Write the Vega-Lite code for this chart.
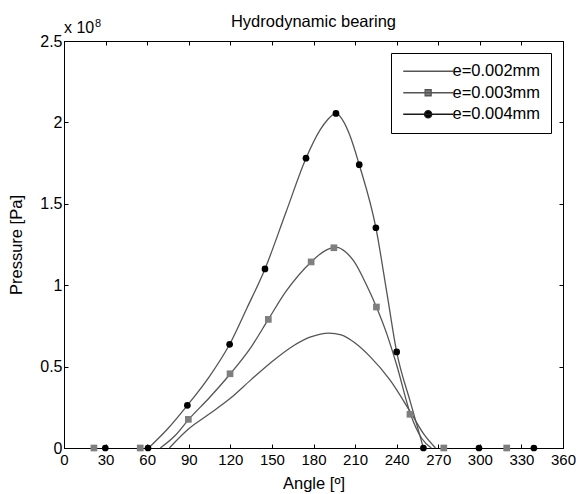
{
  "$schema": "https://vega.github.io/schema/vega-lite/v6.json",
  "width": 499,
  "height": 407,
  "autosize": "none",
  "padding": {"left": 64, "top": 41, "right": 13, "bottom": 46},
  "background": "white",
  "title": {"text": "Hydrodynamic bearing", "fontSize": 16.5, "fontWeight": "normal", "font": "Liberation Sans", "color": "black", "offset": 4, "dy": 16},
  "config": {
    "font": "Liberation Sans",
    "view": {"stroke": "black", "strokeWidth": 1},
    "axis": {"grid": false, "domainColor": "black", "tickColor": "black", "tickSize": -4, "labelColor": "black", "labelFontSize": 15, "labelFont": "Liberation Sans", "titleFontSize": 16.5, "titleFont": "Liberation Sans", "titleFontWeight": "normal", "titleColor": "black", "labelPadding": 4, "labelFlush": false}
  },
  "datasets": {
    "curves": [
      {"series": "e=0.002mm", "angle": 76, "p": 0},
      {"series": "e=0.002mm", "angle": 90, "p": 0.118},
      {"series": "e=0.002mm", "angle": 105, "p": 0.21},
      {"series": "e=0.002mm", "angle": 120, "p": 0.305},
      {"series": "e=0.002mm", "angle": 135, "p": 0.42},
      {"series": "e=0.002mm", "angle": 150, "p": 0.53},
      {"series": "e=0.002mm", "angle": 165, "p": 0.625},
      {"series": "e=0.002mm", "angle": 178, "p": 0.682},
      {"series": "e=0.002mm", "angle": 191, "p": 0.706},
      {"series": "e=0.002mm", "angle": 200, "p": 0.695},
      {"series": "e=0.002mm", "angle": 210, "p": 0.645},
      {"series": "e=0.002mm", "angle": 221, "p": 0.56},
      {"series": "e=0.002mm", "angle": 235, "p": 0.42},
      {"series": "e=0.002mm", "angle": 250, "p": 0.22},
      {"series": "e=0.002mm", "angle": 260, "p": 0.08},
      {"series": "e=0.002mm", "angle": 268, "p": 0},
      {"series": "e=0.003mm", "angle": 69.5, "p": 0},
      {"series": "e=0.003mm", "angle": 80, "p": 0.075},
      {"series": "e=0.003mm", "angle": 90, "p": 0.176},
      {"series": "e=0.003mm", "angle": 105, "p": 0.31},
      {"series": "e=0.003mm", "angle": 120, "p": 0.456},
      {"series": "e=0.003mm", "angle": 135, "p": 0.62},
      {"series": "e=0.003mm", "angle": 147.4, "p": 0.79},
      {"series": "e=0.003mm", "angle": 160, "p": 0.96},
      {"series": "e=0.003mm", "angle": 178.3, "p": 1.143},
      {"series": "e=0.003mm", "angle": 187, "p": 1.205},
      {"series": "e=0.003mm", "angle": 192, "p": 1.226},
      {"series": "e=0.003mm", "angle": 197, "p": 1.232},
      {"series": "e=0.003mm", "angle": 203, "p": 1.205},
      {"series": "e=0.003mm", "angle": 209, "p": 1.149},
      {"series": "e=0.003mm", "angle": 218, "p": 1.006},
      {"series": "e=0.003mm", "angle": 225.4, "p": 0.866},
      {"series": "e=0.003mm", "angle": 233, "p": 0.698},
      {"series": "e=0.003mm", "angle": 240, "p": 0.51},
      {"series": "e=0.003mm", "angle": 250, "p": 0.207},
      {"series": "e=0.003mm", "angle": 258, "p": 0.06},
      {"series": "e=0.003mm", "angle": 265, "p": 0},
      {"series": "e=0.004mm", "angle": 61, "p": 0},
      {"series": "e=0.004mm", "angle": 75, "p": 0.12},
      {"series": "e=0.004mm", "angle": 89, "p": 0.262},
      {"series": "e=0.004mm", "angle": 105, "p": 0.44},
      {"series": "e=0.004mm", "angle": 119.5, "p": 0.637},
      {"series": "e=0.004mm", "angle": 132, "p": 0.86},
      {"series": "e=0.004mm", "angle": 145, "p": 1.1},
      {"series": "e=0.004mm", "angle": 160, "p": 1.445},
      {"series": "e=0.004mm", "angle": 174.6, "p": 1.78},
      {"series": "e=0.004mm", "angle": 185, "p": 1.957},
      {"series": "e=0.004mm", "angle": 190, "p": 2.015},
      {"series": "e=0.004mm", "angle": 196.2, "p": 2.055},
      {"series": "e=0.004mm", "angle": 202, "p": 2.0},
      {"series": "e=0.004mm", "angle": 206, "p": 1.925},
      {"series": "e=0.004mm", "angle": 213, "p": 1.74},
      {"series": "e=0.004mm", "angle": 225, "p": 1.353},
      {"series": "e=0.004mm", "angle": 233, "p": 0.95},
      {"series": "e=0.004mm", "angle": 240, "p": 0.59},
      {"series": "e=0.004mm", "angle": 250, "p": 0.279},
      {"series": "e=0.004mm", "angle": 259.3, "p": 0}
    ],
    "markers": [
      {"series": "e=0.003mm", "angle": 21.6, "p": 0},
      {"series": "e=0.003mm", "angle": 55, "p": 0},
      {"series": "e=0.003mm", "angle": 89.7, "p": 0.176},
      {"series": "e=0.003mm", "angle": 119.8, "p": 0.456},
      {"series": "e=0.003mm", "angle": 147.4, "p": 0.79},
      {"series": "e=0.003mm", "angle": 178.3, "p": 1.143},
      {"series": "e=0.003mm", "angle": 194.7, "p": 1.23},
      {"series": "e=0.003mm", "angle": 225.4, "p": 0.866},
      {"series": "e=0.003mm", "angle": 249.6, "p": 0.207},
      {"series": "e=0.003mm", "angle": 274, "p": 0},
      {"series": "e=0.003mm", "angle": 319.4, "p": 0},
      {"series": "e=0.004mm", "angle": 29.8, "p": 0},
      {"series": "e=0.004mm", "angle": 60.6, "p": 0},
      {"series": "e=0.004mm", "angle": 89, "p": 0.262},
      {"series": "e=0.004mm", "angle": 119.5, "p": 0.637},
      {"series": "e=0.004mm", "angle": 145, "p": 1.1},
      {"series": "e=0.004mm", "angle": 174.6, "p": 1.78},
      {"series": "e=0.004mm", "angle": 196.2, "p": 2.055},
      {"series": "e=0.004mm", "angle": 213, "p": 1.74},
      {"series": "e=0.004mm", "angle": 225, "p": 1.353},
      {"series": "e=0.004mm", "angle": 240, "p": 0.59},
      {"series": "e=0.004mm", "angle": 259.3, "p": 0},
      {"series": "e=0.004mm", "angle": 299.4, "p": 0},
      {"series": "e=0.004mm", "angle": 339, "p": 0}
    ],
    "legendrows": [
      {"series": "e=0.002mm", "angle": 0, "p": 0},
      {"series": "e=0.003mm", "angle": 0, "p": 0},
      {"series": "e=0.004mm", "angle": 0, "p": 0}
    ],
    "note": [{"label": "x 10", "power": "8"}]
  },
  "layer": [
    {
      "data": {"name": "curves"},
      "mark": {"type": "line", "interpolate": "monotone", "color": "#555555", "strokeWidth": 1.3},
      "encoding": {
        "x": {"field": "angle", "type": "quantitative", "scale": {"domain": [0, 360], "nice": false, "zero": false}, "axis": {"values": [0, 30, 60, 90, 120, 150, 180, 210, 240, 270, 300, 330, 360], "title": "Angle [º]", "titlePadding": 8, "labelPadding": 8}},
        "y": {"field": "p", "type": "quantitative", "scale": {"domain": [0, 2.5], "nice": false}, "axis": {"values": [0, 0.5, 1, 1.5, 2, 2.5], "format": "~g", "title": "Pressure [Pa]", "titlePadding": 15, "labelFontSize": 16, "labelPadding": 6}},
        "detail": {"field": "series", "type": "nominal"}
      }
    },
    {
      "data": {"name": "markers"},
      "mark": {"type": "point", "filled": true, "opacity": 1, "size": 45},
      "encoding": {
        "x": {"field": "angle", "type": "quantitative", "axis": null},
        "y": {"field": "p", "type": "quantitative", "axis": null},
        "shape": {"field": "series", "type": "nominal", "scale": {"domain": ["e=0.003mm", "e=0.004mm"], "range": ["square", "circle"]}, "legend": null},
        "fill": {"field": "series", "type": "nominal", "scale": {"domain": ["e=0.003mm", "e=0.004mm"], "range": ["#7f7f7f", "#000000"]}, "legend": null}
      }
    },
    {
      "data": {"name": "legendrows"},
      "transform": [{"filter": "false"}],
      "mark": {"type": "point", "filled": false, "opacity": 1},
      "encoding": {
        "x": {"field": "angle", "type": "quantitative", "axis": {"orient": "top", "labels": false, "title": null, "domain": false, "values": [0, 30, 60, 90, 120, 150, 180, 210, 240, 270, 300, 330, 360]}},
        "y": {"field": "p", "type": "quantitative", "axis": {"orient": "right", "labels": false, "title": null, "domain": false, "values": [0, 0.5, 1, 1.5, 2, 2.5]}},
        "shape": {"field": "series", "type": "nominal", "scale": {"domain": ["e=0.002mm", "e=0.003mm", "e=0.004mm"], "range": ["M-1,0H7.3", "M-1,0H7.3M2.65,-0.5H3.65V0.5H2.65Z", "M-1,0H7.3M2.55,0A0.6,0.6 0 1,1 3.75,0A0.6,0.6 0 1,1 2.55,0Z"]}, "legend": {"title": null, "orient": "top-right", "offset": 12, "padding": 10, "strokeColor": "black", "fillColor": "white", "labelFontSize": 16.5, "labelFont": "Liberation Sans", "labelColor": "black", "symbolSize": 144, "symbolStrokeWidth": 1.3, "symbolOpacity": 1, "labelOffset": 35, "rowPadding": 4.5}},
        "fill": {"field": "series", "type": "nominal", "scale": {"domain": ["e=0.002mm", "e=0.003mm", "e=0.004mm"], "range": ["#555555", "#7f7f7f", "#000000"]}},
        "stroke": {"field": "series", "type": "nominal", "scale": {"domain": ["e=0.002mm", "e=0.003mm", "e=0.004mm"], "range": ["#555555", "#555555", "#1a1a1a"]}}
      }
    },
    {
      "data": {"name": "note"},
      "mark": {"type": "text", "align": "left", "baseline": "alphabetic", "dy": -8, "fontSize": 16, "font": "Liberation Sans", "color": "black"},
      "encoding": {
        "x": {"datum": 0, "type": "quantitative", "axis": null},
        "y": {"datum": 2.5, "type": "quantitative", "axis": null},
        "text": {"field": "label"}
      }
    },
    {
      "data": {"name": "note"},
      "mark": {"type": "text", "align": "left", "baseline": "alphabetic", "dx": 31, "dy": -14, "fontSize": 11, "font": "Liberation Sans", "color": "black"},
      "encoding": {
        "x": {"datum": 0, "type": "quantitative", "axis": null},
        "y": {"datum": 2.5, "type": "quantitative", "axis": null},
        "text": {"field": "power"}
      }
    }
  ],
  "resolve": {
    "scale": {"shape": "independent", "fill": "independent", "stroke": "independent"},
    "axis": {"x": "independent", "y": "independent"}
  }
}
